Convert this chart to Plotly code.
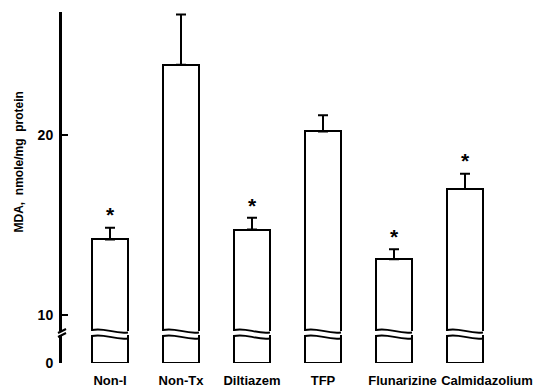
import plotly.graph_objects as go
from plotly.subplots import make_subplots

categories = ["Non-I", "Non-Tx", "Diltiazem", "TFP", "Flunarizine", "Calmidazolium"]
mda_values = [14.2, 23.9, 14.75, 20.2, 13.1, 17.0]
mda_sem = [0.65, 2.8, 0.65, 0.9, 0.55, 0.85]
significant = [True, False, True, False, True, True]
upper_ticks = [10, 20]
lower_ticks = [0]

# layout / style (reference pixel coordinates; page body adds an 8px offset)
OFF = 8
W, H = 543 - OFF, 392 - OFF
plot_left, plot_right, plot_top, plot_bottom = 62, 530, 12, 363
L, R = plot_left - OFF, (543 - plot_right)
T, B = plot_top - OFF, (392 - plot_bottom)
plot_w = plot_right - plot_left
plot_h = plot_bottom - plot_top
upper_bottom_px = 331
lower_top_px = 335
px_per_unit = 18.0
y10_px = 315

def py(px):
    return (plot_bottom - px) / plot_h

def pxx(px):
    return (px - plot_left) / plot_w

upper_lo = 10 - (upper_bottom_px - y10_px) / px_per_unit
upper_hi = 10 + (y10_px - plot_top) / px_per_unit
cat_px = 71.0
x_lo = -48.0 / cat_px
x_hi = x_lo + plot_w / cat_px
bar_w = 36.0 / cat_px
label_shift = [0, 0, 0, 0, 0.12, 0.31]

idx = list(range(len(categories)))

fig = make_subplots(rows=2, cols=1, shared_xaxes=False, vertical_spacing=0,
                    row_heights=[0.9, 0.1])

font_fam = "Liberation Sans, Arial, sans-serif"

fig.add_trace(go.Bar(
    x=idx, y=mda_values, width=bar_w,
    marker=dict(color="white", line=dict(color="black", width=2)),
    error_y=dict(type="data", array=mda_sem, arrayminus=[0]*len(mda_sem),
                 symmetric=False, color="black", thickness=2, width=5),
    showlegend=False), row=1, col=1)
fig.add_trace(go.Bar(
    x=idx, y=mda_values, width=bar_w,
    marker=dict(color="white", line=dict(color="black", width=2)),
    showlegend=False), row=2, col=1)

star_x = [i for i in idx if significant[i]]
star_y = [mda_values[i] + mda_sem[i] for i in idx if significant[i]]
fig.add_trace(go.Scatter(
    x=star_x, y=star_y, mode="text", text=["*"] * len(star_x),
    textposition="top center", cliponaxis=False,
    textfont=dict(size=21, color="black", family=font_fam, weight="bold"),
    showlegend=False), row=1, col=1)

fig.update_layout(
    width=W, height=H, margin=dict(l=L, r=R, t=T, b=B),
    paper_bgcolor="white", plot_bgcolor="white",
    font=dict(family=font_fam, color="black"),
    bargap=0,
)

ud = py(upper_bottom_px)
ld = py(lower_top_px)
fig.update_layout(
    xaxis=dict(domain=[0, 1], range=[x_lo, x_hi], showline=False, showgrid=False,
               zeroline=False, showticklabels=False, ticks=""),
    xaxis2=dict(domain=[0, 1], range=[x_lo, x_hi], showline=False, showgrid=False,
                zeroline=False, ticks="", ticklabelstandoff=8,
                tickvals=[i + label_shift[i] for i in idx], ticktext=categories,
                tickfont=dict(size=13, family=font_fam, weight="bold", color="black")),
    yaxis=dict(domain=[ud, 1], range=[upper_lo, upper_hi], tickvals=upper_ticks,
               ticks="inside", ticklen=6, tickwidth=2, tickcolor="black",
               showline=True, linecolor="black", linewidth=3, showgrid=False,
               zeroline=False, ticklabelstandoff=3,
               tickfont=dict(size=14, family=font_fam, weight="bold", color="black")),
    yaxis2=dict(domain=[0, ld], range=[0, 3], tickvals=lower_ticks,
                ticks="inside", ticklen=6, tickwidth=2, tickcolor="black",
                showline=True, linecolor="black", linewidth=3, showgrid=False,
                zeroline=False, ticklabelstandoff=3,
                tickfont=dict(size=14, family=font_fam, weight="bold", color="black")),
)

shapes = []
for i in idx:
    xl = i - bar_w / 2
    xr = i + bar_w / 2
    w = xr - xl
    for ypx in (upper_bottom_px - 1, lower_top_px + 1):
        y0 = py(ypx)
        a = 3.0 / plot_h
        path = (f"M {xl},{y0} C {xl + 0.35*w},{y0 + a} {xl + 0.6*w},{y0 - 1.4*a} "
                f"{xr},{y0 - 0.8*a}")
        shapes.append(dict(type="path", xref="x", yref="paper", path=path,
                           line=dict(color="black", width=2)))
for ypx in (upper_bottom_px, lower_top_px):
    shapes.append(dict(type="line", xref="paper", yref="paper",
                       x0=pxx(plot_left - 4), y0=py(ypx + 2),
                       x1=pxx(plot_left + 4), y1=py(ypx - 2),
                       line=dict(color="black", width=2)))
fig.update_layout(shapes=shapes)

fig.add_annotation(
    text="MDA,  nmole/mg  protein", textangle=-90, showarrow=False,
    xref="paper", yref="paper", x=pxx(18.5), y=py(162),
    xanchor="center", yanchor="middle",
    font=dict(size=12, family=font_fam, weight="bold", color="black"))

fig.write_html("out.html")
